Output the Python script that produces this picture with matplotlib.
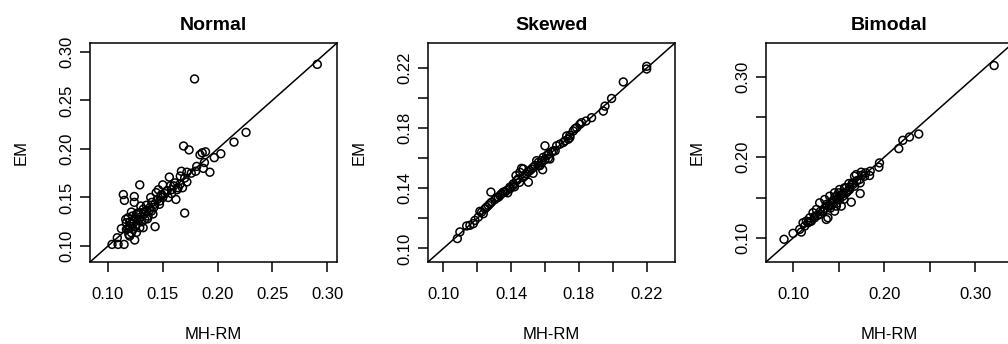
import matplotlib
matplotlib.use("Agg")
import matplotlib.pyplot as plt

plt.rcParams['font.family'] = ['Liberation Sans', 'DejaVu Sans']

# Normal panel: MH-RM (x) vs EM (y)
normal_x = [0.291, 0.179, 0.226, 0.215, 0.169, 0.174, 0.189, 0.184, 0.186, 0.203,
            0.197, 0.188, 0.181, 0.180, 0.187, 0.193, 0.167, 0.166, 0.156, 0.172,
            0.161, 0.160, 0.164, 0.166, 0.158, 0.150, 0.154, 0.146, 0.144, 0.149,
            0.139, 0.162, 0.129, 0.114, 0.115, 0.124, 0.124, 0.170, 0.143,
            0.1473, 0.1427, 0.1382, 0.1351, 0.1321, 0.1299, 0.1299, 0.1260, 0.1214, 0.1223,
            0.1183, 0.1162, 0.1260, 0.1336, 0.1366, 0.1397, 0.1168, 0.1198, 0.1229, 0.1290,
            0.1321, 0.1168, 0.1122, 0.1214, 0.1244, 0.1085, 0.1037, 0.1092, 0.1147, 0.1198,
            0.1260, 0.1229,
            0.135, 0.140, 0.145, 0.150, 0.152, 0.148, 0.142, 0.138, 0.133, 0.130,
            0.128, 0.127, 0.131, 0.125, 0.120, 0.118, 0.122, 0.126, 0.119, 0.136,
            0.141, 0.155, 0.158, 0.163, 0.170, 0.168, 0.176, 0.172, 0.157, 0.147]
normal_y = [0.287, 0.272, 0.217, 0.207, 0.203, 0.199, 0.197, 0.194, 0.196, 0.195,
            0.191, 0.186, 0.182, 0.177, 0.180, 0.176, 0.177, 0.172, 0.171, 0.166,
            0.165, 0.162, 0.160, 0.164, 0.158, 0.163, 0.157, 0.158, 0.155, 0.153,
            0.150, 0.148, 0.163, 0.153, 0.147, 0.151, 0.145, 0.134, 0.120,
            0.1464, 0.1430, 0.1395, 0.1361, 0.1378, 0.1412, 0.1344, 0.1326, 0.1350, 0.1309,
            0.1292, 0.1275, 0.1275, 0.1275, 0.1309, 0.1361, 0.1241, 0.1206, 0.1172, 0.1189,
            0.1189, 0.1172, 0.1179, 0.1137, 0.1062, 0.1086, 0.1017, 0.1017, 0.1017, 0.1103,
            0.1223, 0.1258,
            0.142, 0.145, 0.148, 0.150, 0.154, 0.151, 0.140, 0.137, 0.133, 0.130,
            0.127, 0.134, 0.125, 0.120, 0.125, 0.118, 0.123, 0.114, 0.112, 0.128,
            0.133, 0.150, 0.154, 0.158, 0.170, 0.160, 0.175, 0.176, 0.162, 0.143]

skewed_x = [0.2200, 0.2200, 0.2062, 0.1993, 0.1954, 0.1944, 0.1875, 0.1842, 0.1816, 0.1777,
            0.1767, 0.1747, 0.1728, 0.1738, 0.1708, 0.1669, 0.1600, 0.1639, 0.1610, 0.1590,
            0.1580, 0.1629, 0.1586, 0.1541, 0.1521, 0.1462, 0.1492, 0.1472, 0.1502, 0.1429,
            0.1433, 0.1413, 0.1393, 0.1374, 0.1354, 0.1334, 0.1315, 0.1281, 0.1285, 0.1266,
            0.1246, 0.1216, 0.1236, 0.1207, 0.1187, 0.1177, 0.1138, 0.1157, 0.1098, 0.1083,
            0.1452, 0.1482, 0.1511, 0.1531, 0.1561, 0.1570, 0.1620, 0.1649, 0.1688, 0.1718,
            0.1747, 0.1787, 0.1806, 0.1393, 0.1413, 0.1364, 0.1344, 0.1325, 0.1305, 0.1256,
            0.1275, 0.1226, 0.1443, 0.1472, 0.1551,
            0.150, 0.156, 0.160, 0.153, 0.145, 0.142, 0.138, 0.162, 0.166, 0.158]
skewed_y = [0.2212, 0.2194, 0.2108, 0.1998, 0.1947, 0.1914, 0.1870, 0.1848, 0.1837, 0.1797,
            0.1782, 0.1753, 0.1749, 0.1727, 0.1705, 0.1683, 0.1683, 0.1639, 0.1617, 0.1606,
            0.1584, 0.1595, 0.1524, 0.1551, 0.1529, 0.1533, 0.1496, 0.1474, 0.1441, 0.1485,
            0.1452, 0.1430, 0.1408, 0.1386, 0.1375, 0.1352, 0.1337, 0.1375, 0.1308, 0.1286,
            0.1264, 0.1247, 0.1231, 0.1209, 0.1187, 0.1165, 0.1150, 0.1154, 0.1110, 0.1066,
            0.1507, 0.1485, 0.1518, 0.1540, 0.1573, 0.1551, 0.1628, 0.1650, 0.1694, 0.1716,
            0.1738, 0.1804, 0.1826, 0.1397, 0.1419, 0.1375, 0.1364, 0.1341, 0.1326, 0.1275,
            0.1297, 0.1242, 0.1463, 0.1529, 0.1584,
            0.151, 0.155, 0.159, 0.150, 0.144, 0.141, 0.137, 0.160, 0.165, 0.157]

bimodal_x = [0.3208, 0.2380, 0.2278, 0.2205, 0.2161, 0.1949, 0.1942,
             0.1847, 0.1796, 0.1748, 0.1694, 0.1675, 0.1840, 0.1737, 0.1657, 0.1613, 0.1737,
             0.1639, 0.1511, 0.1548, 0.1456, 0.1402, 0.1347, 0.1292, 0.1256, 0.1219, 0.1183,
             0.1146, 0.1110, 0.1073, 0.1000, 0.0901, 0.1365, 0.1383, 0.1456, 0.1529, 0.1438,
             0.1329, 0.1292, 0.1237, 0.1201, 0.1128, 0.1091, 0.1164, 0.1511, 0.1584, 0.1621,
             0.1675, 0.1730, 0.1785, 0.1566, 0.1475, 0.1402, 0.1365,
             0.150, 0.155, 0.160, 0.145, 0.140, 0.135, 0.130, 0.127, 0.148, 0.152,
             0.158, 0.165, 0.142, 0.138, 0.133, 0.156, 0.162, 0.170, 0.176, 0.118,
             0.124, 0.146, 0.150, 0.141]
bimodal_y = [0.3136, 0.2288, 0.2251, 0.2210, 0.2107, 0.1930, 0.1877,
             0.1827, 0.1807, 0.1815, 0.1786, 0.1765, 0.1774, 0.1683, 0.1663, 0.1675, 0.1551,
             0.1444, 0.1601, 0.1518, 0.1560, 0.1518, 0.1477, 0.1436, 0.1354, 0.1313, 0.1251,
             0.1210, 0.1189, 0.1107, 0.1058, 0.0984, 0.1230, 0.1251, 0.1333, 0.1395, 0.1436,
             0.1333, 0.1292, 0.1251, 0.1210, 0.1148, 0.1074, 0.1189, 0.1477, 0.1560, 0.1601,
             0.1642, 0.1724, 0.1765, 0.1622, 0.1395, 0.1395, 0.1416,
             0.150, 0.155, 0.158, 0.147, 0.141, 0.137, 0.133, 0.128, 0.143, 0.153,
             0.162, 0.168, 0.145, 0.140, 0.134, 0.148, 0.163, 0.171, 0.178, 0.120,
             0.127, 0.151, 0.156, 0.137]

titles = ['Normal', 'Skewed', 'Bimodal']
limits = [(0.0836, 0.309), (0.091, 0.2367), (0.0703, 0.3415)]
ticks = [[0.10, 0.15, 0.20, 0.25, 0.30],
         [0.10, 0.12, 0.14, 0.16, 0.18, 0.20, 0.22],
         [0.10, 0.15, 0.20, 0.25, 0.30]]
tick_labels = [['0.10', '0.15', '0.20', '0.25', '0.30'],
               ['0.10', '', '0.14', '', '0.18', '', '0.22'],
               ['0.10', '', '0.20', '', '0.30']]
data = [(normal_x, normal_y), (skewed_x, skewed_y), (bimodal_x, bimodal_y)]

W, H = 1008, 344
fig = plt.figure(figsize=(W / 100, H / 100), dpi=100)
lefts = [90, 428, 766]
for i in range(3):
    ax = fig.add_axes([lefts[i] / W, (H - 262) / H, 247 / W, 219 / H])
    x, y = data[i]
    ax.scatter(x, y, s=32, facecolors='none', edgecolors='black', linewidths=1.1, zorder=3)
    ax.axline((0, 0), slope=1, color='black', lw=1.1)
    ax.set_xlim(*limits[i])
    ax.set_ylim(*limits[i])
    ax.set_xticks(ticks[i])
    ax.set_xticklabels(tick_labels[i])
    ax.set_yticks(ticks[i])
    ax.set_yticklabels(tick_labels[i], rotation=90, va='center')
    ax.tick_params(length=7.2, width=1.1, labelsize=12)
    ax.tick_params(axis='x', pad=11)
    ax.tick_params(axis='y', pad=4)
    for sp in ax.spines.values():
        sp.set_linewidth(1.1)
    ax.set_title(titles[i], fontsize=14, fontweight='bold', pad=9)
    ax.set_xlabel('MH-RM', fontsize=12)
    ax.set_ylabel('EM', fontsize=12)
    ax.xaxis.set_label_coords(0.5, -0.331)
    ax.xaxis.label.set_va('center')
    ax.yaxis.set_label_coords(-0.279, 0.5)
    ax.yaxis.label.set_va('center')

fig.savefig('out.png', dpi=100)
